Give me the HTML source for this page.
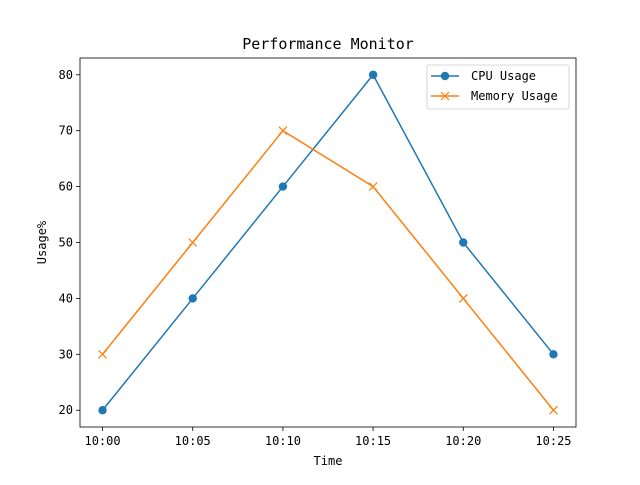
<!DOCTYPE html>
<html><head><meta charset="utf-8"><style>
body{margin:0;background:#fff;}
svg text{font-family:"DejaVu Sans Mono","Liberation Mono",monospace;fill:#000;}
</style></head><body>
<svg id="chart" width="640" height="480">
<rect width="640" height="480" fill="#fff"/>
</svg>
<script>
const categories=["10:00","10:05","10:10","10:15","10:20","10:25"];
const cpuValues=[20,40,60,80,50,30];
const memValues=[30,50,70,60,40,20];
const yTicks=[20,30,40,50,60,70,80];
const L=80,R=576,T=58,B=427;
const yMin=17,yMax=83;
const ns="http://www.w3.org/2000/svg";
const svg=document.getElementById('chart');
function xs(i){return L+(i+0.25)/(categories.length-1+0.5)*(R-L);}
function ys(v){return B-(v-yMin)/(yMax-yMin)*(B-T);}
function mk(tag,attrs,parent){const e=document.createElementNS(ns,tag);for(const k in attrs)e.setAttribute(k,attrs[k]);(parent||svg).appendChild(e);return e;}
let t=mk('text',{x:(L+R)/2,y:49,'text-anchor':'middle','font-size':15});t.textContent='Performance Monitor';


categories.forEach((c,i)=>{const x=xs(i);
let l=mk('line',{x1:x,x2:x,y1:B,y2:B+4,stroke:'#000','stroke-width':0.8});


let tx=mk('text',{x:x,y:B+18,'text-anchor':'middle','font-size':12});tx.textContent=c;

});
yTicks.forEach(v=>{const y=ys(v);
let l=mk('line',{x1:L-4,x2:L,y1:y,y2:y,stroke:'#000','stroke-width':0.8});


let tx=mk('text',{x:L-7,y:y+4,'text-anchor':'end','font-size':12});tx.textContent=v;

});
t=mk('text',{x:(L+R)/2,y:465,'text-anchor':'middle','font-size':12});t.textContent='Time';


t=mk('text',{x:46,y:(T+B)/2,'text-anchor':'middle','font-size':12,transform:`rotate(-90 46 ${(T+B)/2})`});t.textContent='Usage%';


function series(vals,color,marker,name){
 const g=mk('g',{});
 
 
 mk('polyline',{points:vals.map((v,i)=>xs(i)+','+ys(v)).join(' '),fill:'none',stroke:color,'stroke-width':1.5},g);
 vals.forEach((v,i)=>drawMarker(g,xs(i),ys(v),color,marker));
}
function drawMarker(g,x,y,color,marker){
 if(marker==='o'){const c=mk('circle',{cx:x,cy:y,r:4.2,fill:color},g);
  
  }
 else{const p=mk('path',{d:`M${x-4},${y-4}L${x+4},${y+4}M${x-4},${y+4}L${x+4},${y-4}`,stroke:color,'stroke-width':1.2},g);
  
  }
}
series(cpuValues,'#1f77b4','o','cpu-series');
series(memValues,'#ff7f0e','x','memory-series');
mk('rect',{x:L,y:T,width:R-L,height:B-T,fill:'none',stroke:'#000','stroke-width':0.8});
const lg=mk('g',{});


mk('rect',{x:427,y:65,width:142,height:44,rx:2,fill:'#fff',stroke:'#ccc','stroke-width':0.8},lg);
[['CPU Usage','#1f77b4','o',76],['Memory Usage','#ff7f0e','x',96]].forEach(([n,c,m,y])=>{
 const e=mk('g',{},lg);
 
 
 mk('line',{x1:431,x2:459,y1:y,y2:y,stroke:c,'stroke-width':1.5},e);
 drawMarker(e,445,y,c,m);
 const tx=mk('text',{x:471,y:y+4,'font-size':12},e);tx.textContent=n;
});
</script>
</body></html>
